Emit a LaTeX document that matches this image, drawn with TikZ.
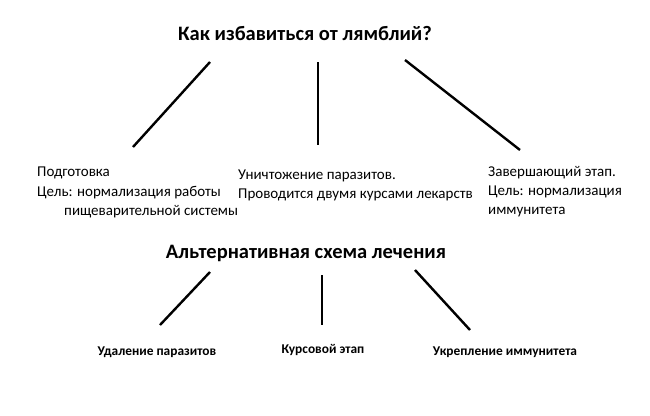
\documentclass[tikz,border=0pt]{standalone}
\usepackage{fontspec}
\setmainfont{Carlito}
\begin{document}
\begin{tikzpicture}[x=1pt,y=-1pt,
  ln/.style={line width=2.4pt},
  txt/.style={inner sep=0pt,font=\fontsize{15}{19}\selectfont},
  hd/.style={inner sep=0pt,font=\fontsize{20.5}{22}\selectfont\bfseries},
  sm/.style={inner sep=0pt,font=\fontsize{13.4}{15}\selectfont\bfseries}]
\useasboundingbox (0,0) rectangle (650,415);
\node[hd] (t1) at (305,33) {Как избавиться от лямблий?};
\coordinate (a1) at (210,62); \coordinate (a2) at (133,147);
\coordinate (b1) at (318,62); \coordinate (b2) at (318,145);
\coordinate (c1) at (405,60); \coordinate (c2) at (520,150);
\draw[ln] (a1)--(a2); \draw[ln] (b1)--(b2); \draw[ln] (c1)--(c2);
\node[txt,anchor=west] (l1) at (37,173) {Подготовка};
\node[txt,anchor=west] (l2) at (37,193) {Цель: нормализация работы};
\node[txt,anchor=west] (l3) at (64,212) {пищеварительной системы};
\node[txt,anchor=north west,align=left] (m) at (238,170) {Уничтожение паразитов.\\Проводится двумя курсами лекарств};
\node[txt,anchor=north west,align=left] (r) at (488,166) {Завершающий этап.\\Цель: нормализация\\иммунитета};
\node[hd] (t2) at (306,253) {Альтернативная схема лечения};
\coordinate (d1) at (210,272); \coordinate (d2) at (160,325);
\coordinate (e1) at (322,275); \coordinate (e2) at (322,325);
\coordinate (f1) at (415,270); \coordinate (f2) at (470,330);
\draw[ln] (d1)--(d2); \draw[ln] (e1)--(e2); \draw[ln] (f1)--(f2);
\node[sm] (u1) at (157,352) {Удаление паразитов};
\node[sm] (u2) at (323,350) {Курсовой этап};
\node[sm] (u3) at (505,352) {Укрепление иммунитета};
\end{tikzpicture}
\end{document}
